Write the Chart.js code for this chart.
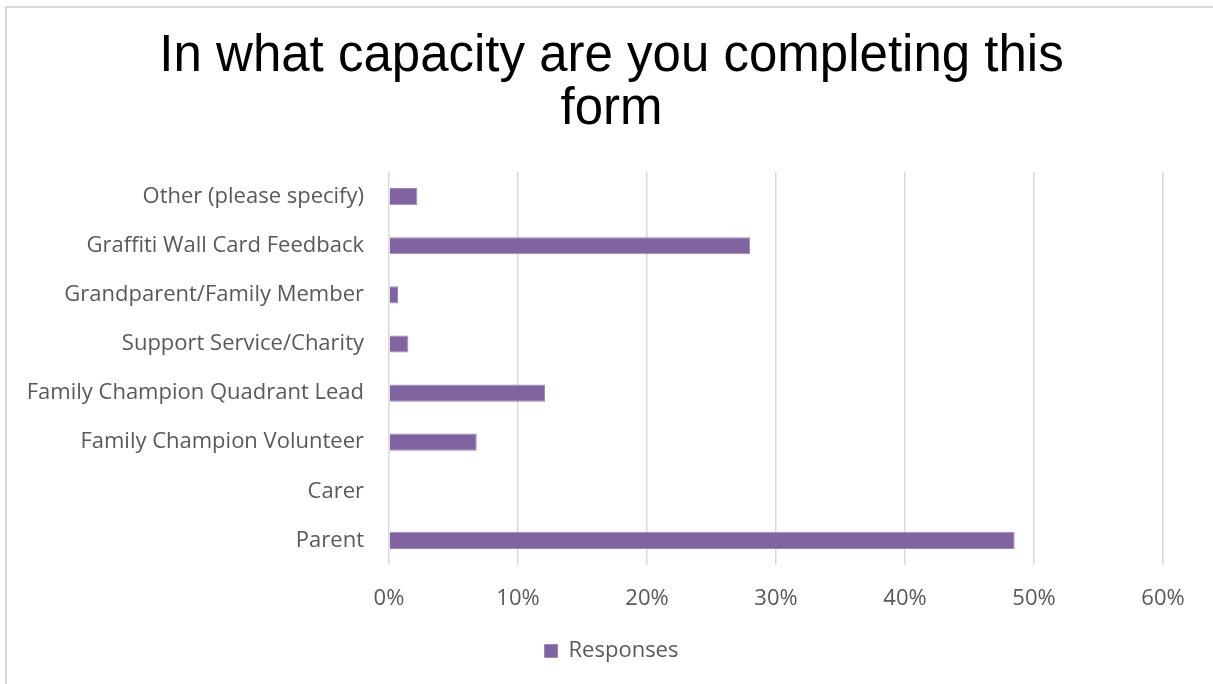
<!DOCTYPE html>
<html>
<head>
<meta charset="utf-8">
<script src="https://cdn.jsdelivr.net/npm/chart.js@4/dist/chart.umd.min.js"></script>
<style>
html,body{margin:0;padding:0;background:#fff;overflow:hidden;}
#wrap{position:absolute;left:0;top:0;width:1213px;height:684px;}
</style>
</head>
<body>
<div id="wrap"><canvas id="c" width="1213" height="684"></canvas></div>
<script>
const categories = [
  'Other (please specify)',
  'Graffiti Wall Card Feedback',
  'Grandparent/Family Member',
  'Support Service/Charity',
  'Family Champion Quadrant Lead',
  'Family Champion Volunteer',
  'Carer',
  'Parent'
];
const responses = [2.2, 28.0, 0.7, 1.5, 12.1, 6.8, 0, 48.5];
const xTicks = [0, 10, 20, 30, 40, 50, 60];
const titleLines = ['In what capacity are you completing this', 'form'];
const seriesName = 'Responses';

const borderPlugin = {
  id: 'frame',
  beforeDraw(chart) {
    const ctx = chart.ctx;
    ctx.save();
    ctx.fillStyle = '#ffffff';
    ctx.fillRect(0, 0, chart.width, chart.height);
    ctx.strokeStyle = '#d9d9d9';
    ctx.lineWidth = 2;
    ctx.strokeRect(6, 7, chart.width + 20, chart.height + 20);
    ctx.restore();
  }
};

const labelFont = { family: 'Open Sans, sans-serif', size: 22 };

new Chart(document.getElementById('c'), {
  type: 'bar',
  data: {
    labels: categories,
    datasets: [{
      label: seriesName,
      data: responses,
      backgroundColor: '#8064A2',
      borderColor: '#9d86bb',
      borderWidth: 1,
      barPercentage: 0.35,
      categoryPercentage: 1.0
    }]
  },
  options: {
    indexAxis: 'y',
    responsive: false,
    animation: false,
    layout: { padding: { left: 10, right: 0, top: 0, bottom: 12 } },
    plugins: {
      title: {
        display: true,
        text: titleLines,
        color: '#000000',
        font: { family: 'Liberation Sans, Arial, sans-serif', size: 51, weight: 'normal', lineHeight: 1.04 },
        padding: { top: 30, bottom: 36 }
      },
      legend: {
        display: true,
        position: 'bottom',
        labels: {
          color: '#595959',
          font: labelFont,
          boxWidth: 13,
          boxHeight: 13,
          padding: 10
        }
      },
      tooltip: { enabled: false }
    },
    scales: {
      x: {
        min: 0,
        max: 60,
        afterBuildTicks(scale) { scale.ticks = xTicks.map(v => ({ value: v })); },
        afterFit(scale) { scale.height = 65; },
        ticks: {
          color: '#595959',
          font: labelFont,
          padding: 21,
          callback: v => v + '%'
        },
        grid: { color: '#d9d9d9', lineWidth: 1.5, drawTicks: false },
        border: { display: false }
      },
      y: {
        afterFit(scale) { scale.width = 379; },
        ticks: {
          color: '#595959',
          font: labelFont,
          padding: 25
        },
        grid: { display: false, drawTicks: false },
        border: { display: false }
      },
      yRight: {
        type: 'category',
        position: 'right',
        display: true,
        afterFit(scale) { scale.width = 50; },
        ticks: { display: false },
        grid: { display: false, drawTicks: false },
        border: { display: false }
      }
    }
  },
  plugins: [borderPlugin]
});
</script>
</body>
</html>
